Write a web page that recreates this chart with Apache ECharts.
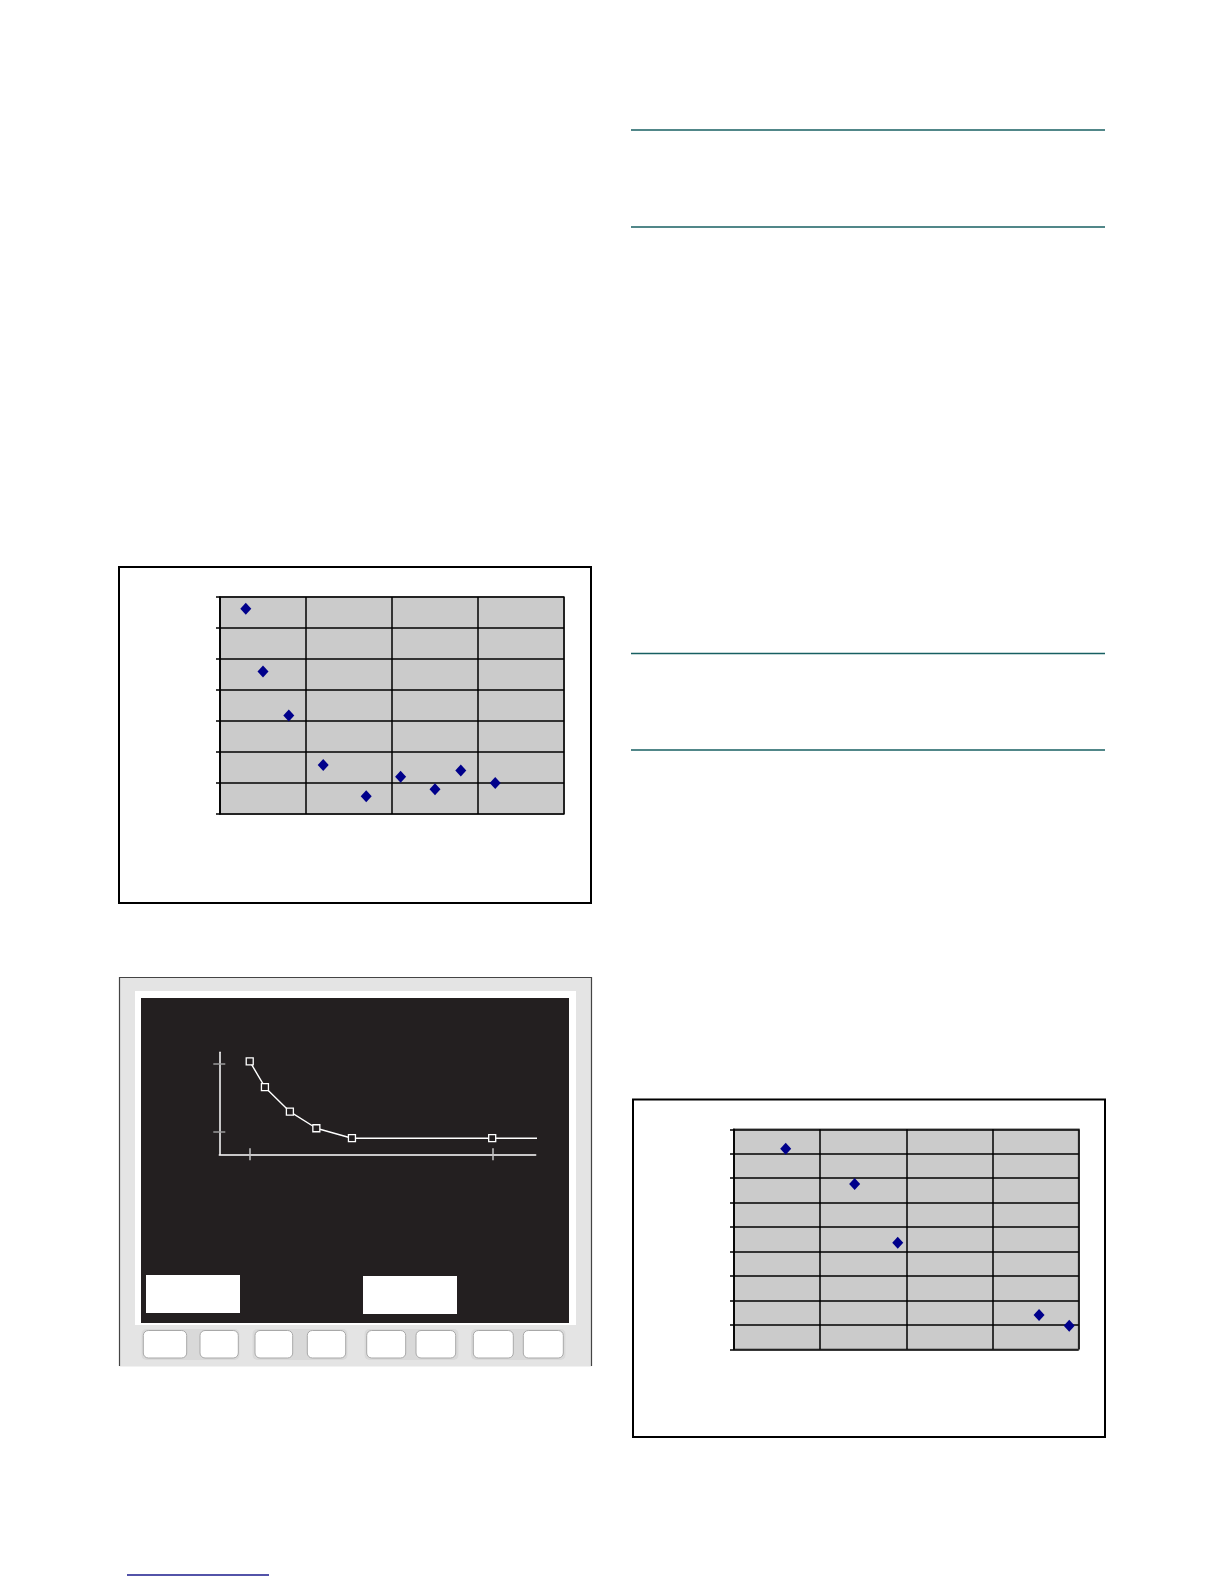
<!DOCTYPE html>
<html>
<head>
<meta charset="utf-8">
<script src="https://cdn.jsdelivr.net/npm/echarts@6/dist/echarts.min.js"></script>
<style>
html,body{margin:0;padding:0;background:#fff;}
#main{width:1224px;height:1584px;}
</style>
</head>
<body>
<div id="main"></div>
<script>
// ---- data ----
// Chart A (top-left scatter)
const chartAX = [3, 5, 8, 12, 17, 21, 25, 28, 32];
const chartAY = [33.1, 23, 15.9, 7.9, 2.85, 6, 4, 7, 5];
const chartAXRange = [0, 40, 10];
const chartAYRange = [0, 35, 5];
// Instrument screen curve
const screenX = [1, 1.5, 2.32, 3.19, 4.36, 8.97, 10.46];
const screenY = [4.1, 2.96, 1.88, 1.15, 0.71, 0.71, 0.71];
const screenXRange = [0, 10.4];
const screenYRange = [0, 4.5];
const screenXTicks = [1, 9];
const screenYTicks = [1, 4];
// Chart B (bottom-right scatter)
const chartBX = [6, 14, 19, 35.4, 38.9];
const chartBY = [41, 33.8, 21.8, 7, 4.8];
const chartBXRange = [0, 40, 10];
const chartBYRange = [0, 45, 5];

function pairs(xs, ys) { return xs.map((x, i) => [x, ys[i]]); }

const chart = echarts.init(document.getElementById('main'), null, {renderer: 'canvas'});

const black = '#000';
const hidden = {show: false};

function excelX(grid, r) {
  return {
    gridIndex: grid, type: 'value', position: 'bottom', min: r[0], max: r[1], interval: r[2],
    axisLine: hidden, axisTick: hidden, axisLabel: hidden,
    splitLine: {show: true, lineStyle: {color: black, width: 1.5}}
  };
}
function excelY(grid, r) {
  return {
    gridIndex: grid, type: 'value', position: 'left', min: r[0], max: r[1], interval: r[2],
    axisLine: {show: true, onZero: false, lineStyle: {color: black, width: 1.5}},
    axisTick: {show: true, length: 4, lineStyle: {color: black, width: 1.5}},
    axisLabel: hidden,
    splitLine: {show: true, lineStyle: {color: black, width: 1.5}}
  };
}

// instrument button layout
const groups = [[141.5, 239.5], [252.5, 347.5], [364.5, 458.5], [471, 565.5]];
const buttons = [[143.3, 186.7], [200, 238.3], [255, 292.7], [307.3, 345.7],
                 [366.7, 405.7], [416, 455.7], [473.3, 513.3], [523.3, 563.3]];

const graphics = [
  // right-side rules
  {type: 'line', shape: {x1: 631, y1: 130, x2: 1105, y2: 130}, style: {stroke: '#175f62', lineWidth: 1.6}},
  {type: 'line', shape: {x1: 631, y1: 227, x2: 1105, y2: 227}, style: {stroke: '#175f62', lineWidth: 1.6}},
  {type: 'line', shape: {x1: 631, y1: 653.5, x2: 1105, y2: 653.5}, style: {stroke: '#175f62', lineWidth: 1.6}},
  {type: 'line', shape: {x1: 631, y1: 750, x2: 1105, y2: 750}, style: {stroke: '#175f62', lineWidth: 1.6}},
  // link underline
  {type: 'line', shape: {x1: 127, y1: 1575, x2: 269, y2: 1575}, style: {stroke: '#1a1a8c', lineWidth: 1.5}},
  // chart A frame
  {type: 'rect', shape: {x: 119, y: 567, width: 472, height: 336}, style: {fill: null, stroke: black, lineWidth: 2}, z: 0},
  // chart B frame
  {type: 'rect', shape: {x: 633, y: 1099.5, width: 472, height: 337.5}, style: {fill: null, stroke: black, lineWidth: 2}, z: 0},
  // instrument outer body
  {type: 'rect', shape: {x: 119.5, y: 977.5, width: 472, height: 389}, style: {fill: '#e4e4e4'}, z: -10},
  {type: 'polyline', shape: {points: [[119.5, 1366], [119.5, 977.5], [591.5, 977.5], [591.5, 1366]]}, style: {fill: null, stroke: '#444', lineWidth: 1.2}, z: -9},
  {type: 'rect', shape: {x: 135, y: 991, width: 441, height: 335}, style: {fill: '#ffffff'}, z: -9},
  {type: 'rect', shape: {x: 141, y: 998, width: 428, height: 325}, style: {fill: '#231f20'}, z: -8},
  {type: 'rect', shape: {x: 146, y: 1275, width: 94, height: 38}, style: {fill: '#ffffff'}, z: -7},
  {type: 'rect', shape: {x: 363, y: 1276, width: 94, height: 38}, style: {fill: '#ffffff'}, z: -7},
  {type: 'rect', shape: {x: 135, y: 1325, width: 441, height: 41}, style: {fill: '#e4e4e4'}, z: -8}
];
groups.forEach(g => graphics.push({type: 'rect', shape: {x: g[0], y: 1329, width: g[1] - g[0], height: 31, r: 5}, style: {fill: '#d9d9d9'}, z: -7}));
buttons.forEach(b => graphics.push({type: 'rect', shape: {x: b[0], y: 1330.5, width: b[1] - b[0], height: 27.5, r: 5}, style: {fill: '#ffffff', stroke: '#a8a8a8', lineWidth: 1}, z: -6}));

const option = {
  animation: false,
  backgroundColor: '#ffffff',
  grid: [
    {left: 220, top: 597, width: 344, height: 217, show: true, backgroundColor: '#cbcbcb', borderColor: '#8a8a8a', borderWidth: 2},
    {left: 219.3, top: 1052.3, width: 316.4, height: 102, show: false},
    {left: 734, top: 1129.3, width: 344.7, height: 220, show: true, backgroundColor: '#cbcbcb', borderColor: '#8a8a8a', borderWidth: 2}
  ],
  xAxis: [
    excelX(0, chartAXRange),
    {gridIndex: 1, type: 'value', position: 'bottom', min: screenXRange[0], max: screenXRange[1],
     axisLine: {show: true, onZero: false, lineStyle: {color: '#ffffff', width: 1.5}},
     axisTick: {show: true, length: 6, customValues: screenXTicks, lineStyle: {color: '#c4c4c4', width: 1.5}},
     axisLabel: {show: false, customValues: screenXTicks}, splitLine: hidden},
    {gridIndex: 1, type: 'value', position: 'bottom', offset: 0, min: screenXRange[0], max: screenXRange[1],
     axisLine: {show: false, onZero: false},
     axisTick: {show: true, inside: true, length: 6, customValues: screenXTicks, lineStyle: {color: '#c4c4c4', width: 1.5}},
     axisLabel: {show: false, customValues: screenXTicks}, splitLine: hidden},
    excelX(2, chartBXRange)
  ],
  yAxis: [
    excelY(0, chartAYRange),
    {gridIndex: 1, type: 'value', position: 'left', min: screenYRange[0], max: screenYRange[1],
     axisLine: {show: true, onZero: false, lineStyle: {color: '#ffffff', width: 1.5}},
     axisTick: {show: true, length: 6, customValues: screenYTicks, lineStyle: {color: '#9a9a9a', width: 1.5}},
     axisLabel: {show: false, customValues: screenYTicks}, splitLine: hidden},
    {gridIndex: 1, type: 'value', position: 'left', offset: 0, min: screenYRange[0], max: screenYRange[1],
     axisLine: {show: false, onZero: false},
     axisTick: {show: true, inside: true, length: 6, customValues: screenYTicks, lineStyle: {color: '#9a9a9a', width: 1.5}},
     axisLabel: {show: false, customValues: screenYTicks}, splitLine: hidden},
    excelY(2, chartBYRange)
  ],
  series: [
    {type: 'scatter', xAxisIndex: 0, yAxisIndex: 0, data: pairs(chartAX, chartAY),
     symbol: 'diamond', symbolSize: [11, 12], itemStyle: {color: '#00008b', opacity: 1}, z: 5},
    {type: 'line', xAxisIndex: 1, yAxisIndex: 1, clip: false,
     data: pairs(screenX, screenY).map((p, i, a) => i === a.length - 1 ? {value: p, symbol: 'none'} : p),
     symbol: 'rect', symbolSize: 7, showAllSymbol: true,
     lineStyle: {color: '#ffffff', width: 1.4},
     itemStyle: {color: '#231f20', borderColor: '#ffffff', borderWidth: 1.3}, z: 5},
    {type: 'scatter', xAxisIndex: 3, yAxisIndex: 3, data: pairs(chartBX, chartBY),
     symbol: 'diamond', symbolSize: [11, 12], itemStyle: {color: '#00008b', opacity: 1}, z: 5}
  ],
  graphic: graphics
};
chart.setOption(option);
</script>
</body>
</html>
